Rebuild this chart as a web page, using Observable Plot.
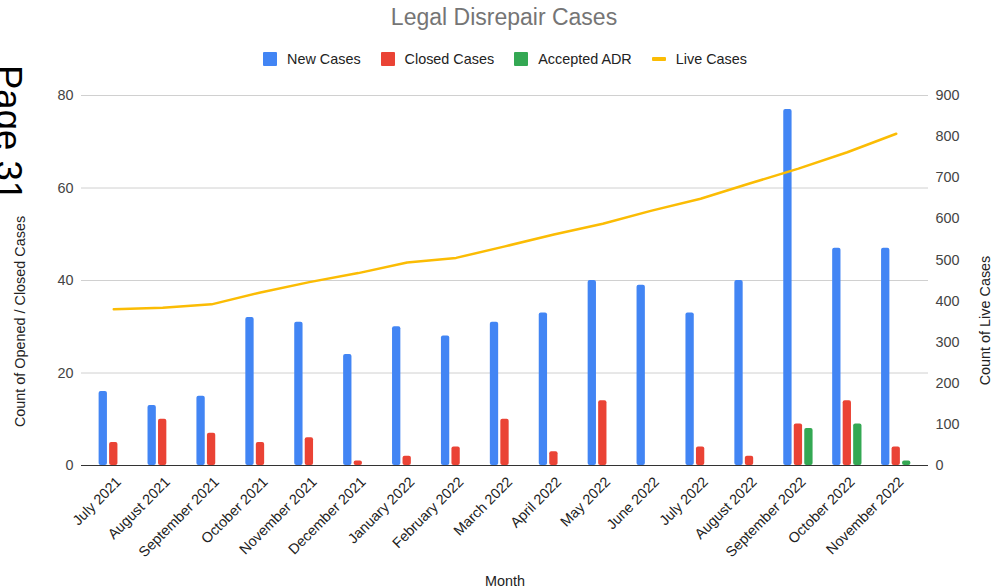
<!DOCTYPE html>
<html>
<head>
<meta charset="utf-8">
<script src="https://cdn.jsdelivr.net/npm/d3@7"></script>
<script src="https://cdn.jsdelivr.net/npm/@observablehq/plot@0.6"></script>
<style>
  body { margin: 0; background: #fff; font-family: Arial, "Liberation Sans", sans-serif; }
  #wrap { position: relative; width: 993px; height: 588px; overflow: hidden; background: #fff; }
  #chart { position: absolute; left: 0; top: 0; }
  #title { position: absolute; left: 0; width: 1008px; top: 6px; text-align: center; font-size: 23px; line-height: 23px; color: #757575; }
  #legend { position: absolute; left: 263px; top: 51px; display: flex; align-items: center; font-size: 14.4px; line-height: 16px; color: #222; }
  .item { display: flex; align-items: center; margin-right: 20px; }
  .sw { width: 14px; height: 14px; margin-right: 10px; border-radius: 1px; }
  .ln { width: 14px; height: 4px; margin-right: 10px; border-radius: 1px; }
  #page { position: absolute; left: 26px; top: 65px; transform-origin: 0 0; transform: rotate(90deg); font-size: 36.5px; line-height: 36.5px; color: #000; white-space: nowrap; }
</style>
</head>
<body>
<div id="wrap">
  <div id="chart"></div>
  <div id="title">Legal Disrepair Cases</div>
  <div id="legend"></div>
  <div id="page">Page 31</div>
</div>
<script>
// ---- data ----
const months = ["July 2021", "August 2021", "September 2021", "October 2021", "November 2021", "December 2021",
  "January 2022", "February 2022", "March 2022", "April 2022", "May 2022", "June 2022", "July 2022",
  "August 2022", "September 2022", "October 2022", "November 2022"];
const newCases    = [16, 13, 15, 32, 31, 24, 30, 28, 31, 33, 40, 39, 33, 40, 77, 47, 47];
const closedCases = [5, 10, 7, 5, 6, 1, 2, 4, 10, 3, 14, 0, 4, 2, 9, 14, 4];
const acceptedADR = [0, 0, 0, 0, 0, 0, 0, 0, 0, 0, 0, 0, 0, 0, 8, 9, 1];
const liveCases   = [380, 384, 392, 421, 446, 468, 494, 505, 533, 562, 588, 620, 649, 686, 722, 762, 807];
const leftTicks  = [0, 20, 40, 60, 80];
const rightTicks = [0, 100, 200, 300, 400, 500, 600, 700, 800, 900];
const seriesNames = ["New Cases", "Closed Cases", "Accepted ADR", "Live Cases"];
const seriesColors = ["#4285F4", "#EA4335", "#34A853", "#FBBC04"];

// ---- build ----
const leftMax = leftTicks[leftTicks.length - 1];
const rightMax = rightTicks[rightTicks.length - 1];
const k = leftMax / rightMax; // map right-axis values onto left scale

const rows = months.map((m, i) => ({
  month: m, newC: newCases[i], closed: closedCases[i], adr: acceptedADR[i], live: liveCases[i]
}));

const chart = Plot.plot({
  width: 993,
  height: 588,
  marginTop: 95,
  marginBottom: 123,
  marginLeft: 81,
  marginRight: 65,
  style: { fontFamily: "Arial, 'Liberation Sans', sans-serif", fontSize: "14px", background: "transparent", overflow: "visible" },
  x: { type: "band", domain: months, paddingInner: 0.83, paddingOuter: 0.575, round: false, label: null },
  y: { domain: [0, leftMax], label: null },
  marks: [
    Plot.ruleY(leftTicks.slice(1), { stroke: "#d0d0d0", strokeWidth: 1 }),
    Plot.barY(rows.filter(d => d.newC > 0), { x: "month", y: "newC", fill: seriesColors[0], dx: -10.5, rx: 2 }),
    Plot.barY(rows.filter(d => d.closed > 0), { x: "month", y: "closed", fill: seriesColors[1], rx: 2 }),
    Plot.barY(rows.filter(d => d.adr > 0), { x: "month", y: "adr", fill: seriesColors[2], dx: 10.5, rx: 2 }),
    Plot.line(rows, { x: "month", y: d => d.live * k, stroke: seriesColors[3], strokeWidth: 2.5 }),
    Plot.ruleY([0], { stroke: "#333", strokeWidth: 1.2 }),
    Plot.axisY(leftTicks, { anchor: "left", tickSize: 0, tickPadding: 8, label: null, line: true, stroke: "#333", fill: "#444", fontSize: 14.4 }),
    Plot.axisY(rightTicks.map(v => v * k), { anchor: "right", tickSize: 0, tickPadding: 7, tickFormat: d => String(Math.round(d / k)), label: null, line: true, stroke: "#333", fill: "#444", fontSize: 14.4 }),
    Plot.axisX({ anchor: "bottom", tickSize: 0, tickPadding: 14, dx: 5, tickRotate: -45, label: null, fill: "#222", fontSize: 14.4 }),
    Plot.text(["Count of Opened / Closed Cases"], { text: d => d, frameAnchor: "left", textAnchor: "middle", lineAnchor: "middle", rotate: -90, dx: -61, dy: 41, fontSize: 14.4, fill: "#222" }),
    Plot.text(["Count of Live Cases"], { text: d => d, frameAnchor: "right", textAnchor: "middle", lineAnchor: "middle", rotate: -90, dx: 57, dy: 40, fontSize: 14.4, fill: "#222" }),
    Plot.text(["Month"], { text: d => d, frameAnchor: "bottom", textAnchor: "middle", lineAnchor: "middle", dy: 116, fontSize: 14.4, fill: "#222" })
  ]
});
document.getElementById("chart").appendChild(chart);

// legend
const legend = document.getElementById("legend");
seriesNames.forEach((name, i) => {
  const item = document.createElement("div");
  item.className = "item";
  const sw = document.createElement("div");
  sw.className = i === 3 ? "ln" : "sw";
  sw.style.background = seriesColors[i];
  const t = document.createElement("span");
  t.textContent = name;
  item.appendChild(sw);
  item.appendChild(t);
  legend.appendChild(item);
});
</script>
</body>
</html>
